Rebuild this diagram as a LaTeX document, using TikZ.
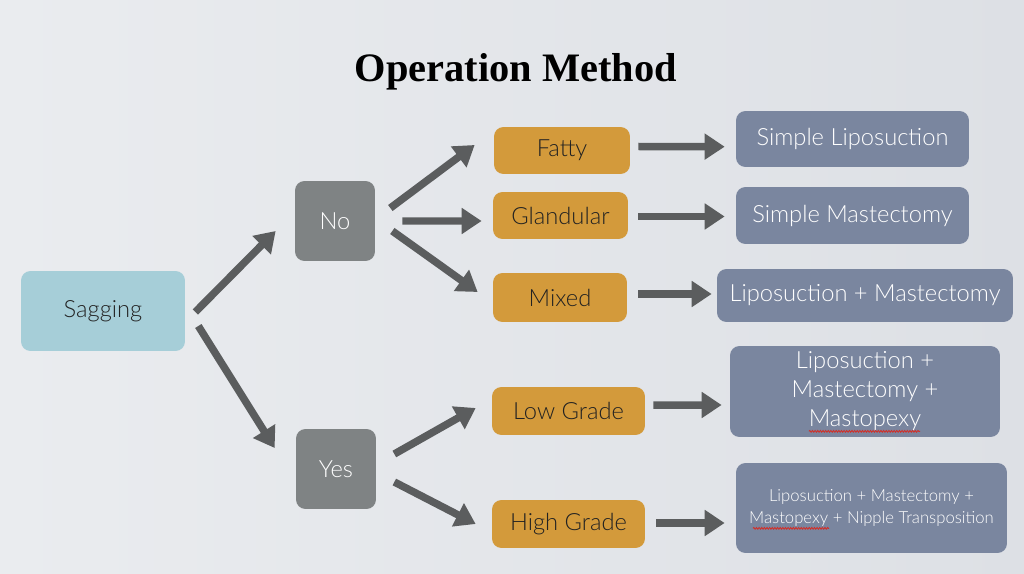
\documentclass[tikz,border=0pt]{standalone}
\usepackage{fontspec}
\setmainfont{Lato}[UprightFont={* Light}]
\newfontfamily\titlefont{Liberation Serif}
\usetikzlibrary{arrows.meta,positioning,decorations.pathmorphing}

\definecolor{bgl}{HTML}{EAECEF}
\definecolor{bgr}{HTML}{DDE0E5}
\definecolor{sagblue}{HTML}{A6CED8}
\definecolor{yngray}{HTML}{7F8384}
\definecolor{typeorange}{HTML}{D39A3B}
\definecolor{opslate}{HTML}{7A869F}
\definecolor{arrowgray}{HTML}{5B5D5E}
\definecolor{darktext}{HTML}{222222}
\definecolor{spellred}{HTML}{D0302A}

\begin{document}
\begin{tikzpicture}[x=0.02cm, y=-0.02cm,
	box/.style={rectangle, rounded corners=0.19cm, inner sep=2pt, font=\fontsize{13.5}{16.5}\selectfont, align=center},
	root/.style={box, fill=sagblue, text=darktext},
	answer/.style={box, fill=yngray, text=white},
	kind/.style={box, fill=typeorange, text=darktext},
	method/.style={box, fill=opslate, text=white},
	flow/.style={draw=arrowgray, line width=0.15cm, -{Triangle[length=0.4cm, width=0.5cm]}, arrowgray},
	spellmark/.style={draw=spellred, line width=0.5pt, decorate, decoration={snake, segment length=1.5pt, amplitude=0.5pt}}]
	\shade[left color=bgl, right color=bgr] (0,0) rectangle (1024,574);
	\useasboundingbox (0,0) rectangle (1024,574);

	\node at (516,72) (title) {\titlefont\bfseries\fontsize{23}{27}\selectfont Operation Method};

	\node [root, minimum width=3.28cm, minimum height=1.6cm] at (103,311) (sag) {Sagging};
	\node [answer, minimum width=1.6cm, minimum height=1.6cm] at (335,221) (no) {No};
	\node [answer, minimum width=1.6cm, minimum height=1.6cm] at (336,469) (yes) {Yes};

	\node [kind, minimum width=2.72cm, minimum height=0.94cm] at (562,150.5) (fat) {Fatty};
	\node [kind, minimum width=2.7cm, minimum height=0.94cm] at (560.5,215.5) (gla) {Glandular};
	\node [kind, minimum width=2.68cm, minimum height=0.98cm] at (560,297.5) (mix) {Mixed};
	\node [kind, minimum width=3.06cm, minimum height=0.96cm] at (568.5,411) (low) {Low Grade};
	\node [kind, minimum width=3.06cm, minimum height=0.96cm] at (568.5,524) (hig) {High Grade};

	\node [method, minimum width=4.66cm, minimum height=1.12cm] at (852.5,139) (slip) {Simple Liposuction};
	\node [method, minimum width=4.66cm, minimum height=1.14cm] at (852.5,215.5) (smas) {Simple Mastectomy};
	\node [method, minimum width=5.92cm, minimum height=1.06cm] at (865,295.5) (lm) {Liposuction + Mastectomy};
	\node [method, minimum width=5.4cm, minimum height=1.82cm] at (865,391.5) (lmm)
		{Liposuction +\\Mastectomy +\\Mastopexy};
	\node [method, minimum width=5.42cm, minimum height=1.8cm, font=\fontsize{9.5}{12}\selectfont] at (871.5,508) (lmmn)
		{Liposuction + Mastectomy +\\Mastopexy + Nipple Transposition};

	% red spell-check marks under Mastopexy
	\draw [spellmark] ([shift={(-56,-6)}]lmm.south) -- ([shift={(55,-6)}]lmm.south);
	\draw [spellmark] ([shift={(-118.5,-25)}]lmmn.south) -- ([shift={(-42.5,-25)}]lmmn.south);

	% sagging -> yes / no
	\draw [flow] ([shift={(10,1)}]sag.east) -- ([shift={(-19,10)}]no.west);
	\draw [flow] ([shift={(13,15)}]sag.east) -- ([shift={(-21,-21)}]yes.west);

	% no -> tissue type
	\draw [flow] ([shift={(15,-13)}]no.east) -- ([shift={(-19,-5.5)}]fat.west);
	\draw [flow] ([shift={(27,0)}]no.east) -- ([shift={(-11,5.5)}]gla.west);
	\draw [flow] ([shift={(17,10)}]no.east) -- ([shift={(-15,-5.5)}]mix.west);

	% yes -> grade
	\draw [flow] ([shift={(18,-15)}]yes.east) -- ([shift={(-16,-3)}]low.west);
	\draw [flow] ([shift={(18,13)}]yes.east) -- ([shift={(-16,0)}]hig.west);

	% type / grade -> method
	\draw [flow] ([shift={(8,-4)}]fat.east) -- ([shift={(-11,7.7)}]slip.west);
	\draw [flow] ([shift={(10,1)}]gla.east) -- ([shift={(-11,1)}]smas.west);
	\draw [flow] ([shift={(11,-3.5)}]mix.east) -- ([shift={(-5,-1.5)}]lm.west);
	\draw [flow] ([shift={(8,-6)}]low.east) -- ([shift={(-8,13.5)}]lmm.west);
	\draw [flow] ([shift={(11,-1)}]hig.east) -- ([shift={(-11,15)}]lmmn.west);
\end{tikzpicture}
\end{document}
